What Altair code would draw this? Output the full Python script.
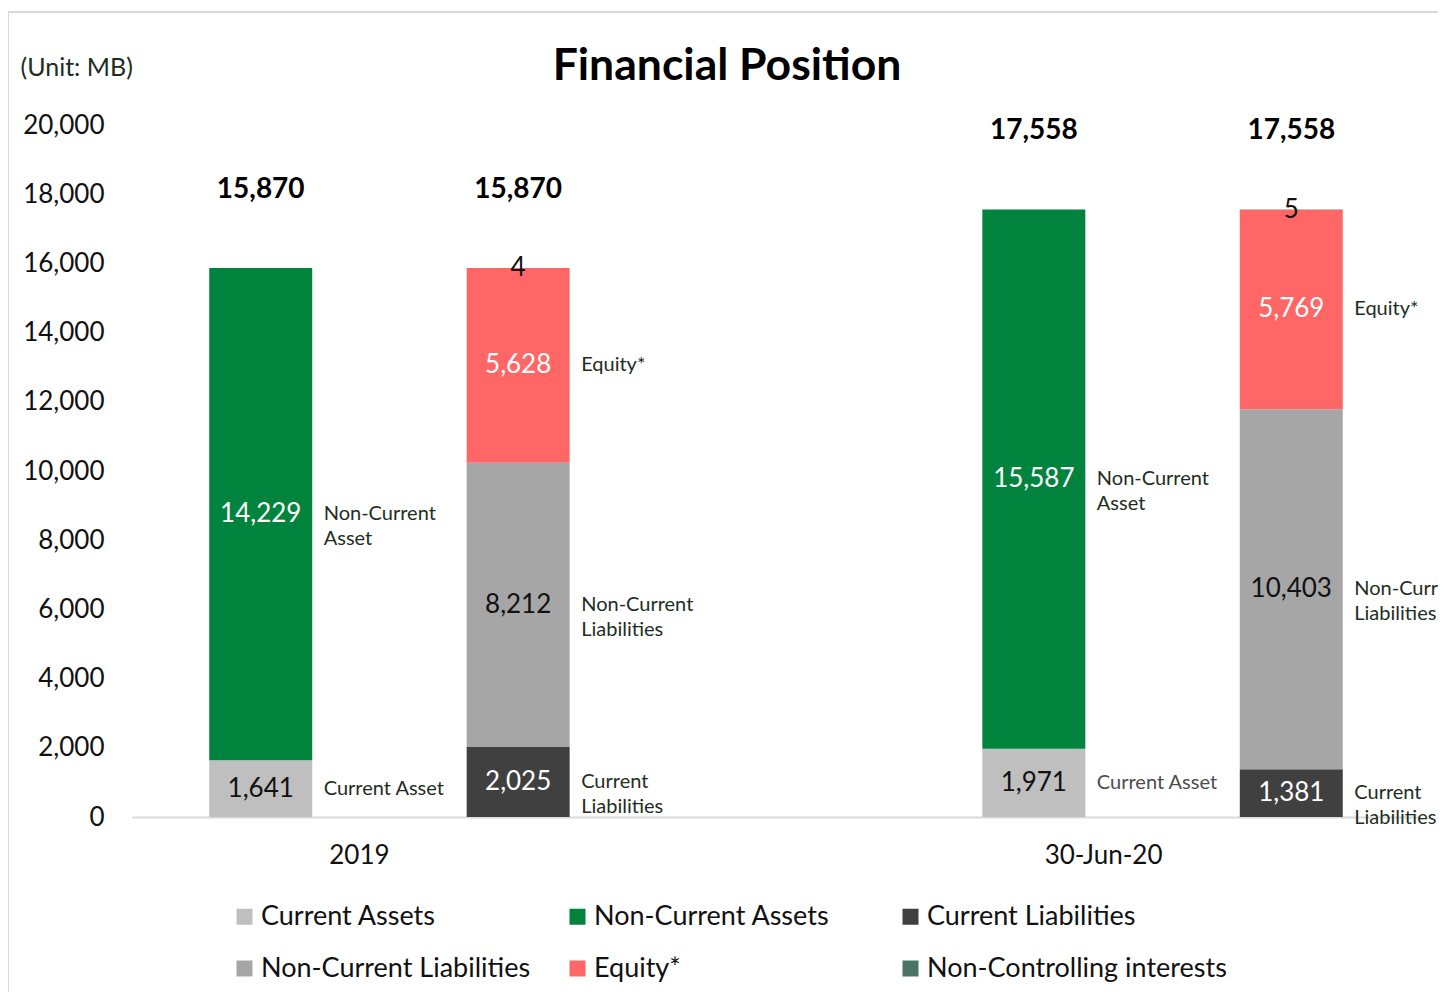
import altair as alt
import pandas as pd

# ---------------- data ----------------
periods = ["2019", "30-Jun-20"]
sides = ["Assets", "Liabilities & Equity"]

current_assets = [1641, 1971]
non_current_assets = [14229, 15587]
current_liabilities = [2025, 1381]
non_current_liabilities = [8212, 10403]
equity = [5628, 5769]
non_controlling = [4, 5]
total_assets = [15870, 17558]
total_liab_equity = [15870, 17558]

segments = ["Current Assets", "Non-Current Assets", "Current Liabilities",
            "Non-Current Liabilities", "Equity*", "Non-Controlling interests"]
seg_colors = ["#BFBFBF", "#00843D", "#404040", "#A6A6A6", "#FF6666", "#4A7366"]
side_notes = ["Current Asset", "Non-Current\nAsset", "Current\nLiabilities",
              "Non-Current\nLiabilities", "Equity*", ""]

series = [
    ("Assets", current_assets),
    ("Assets", non_current_assets),
    ("Liabilities & Equity", current_liabilities),
    ("Liabilities & Equity", non_current_liabilities),
    ("Liabilities & Equity", equity),
    ("Liabilities & Equity", non_controlling),
]

rows = []
for i, p in enumerate(periods):
    for k, (side, vals) in enumerate(series):
        rows.append(dict(period=p, side=side, segment=segments[k], value=vals[i],
                         order=k, note=side_notes[k]))
df = pd.DataFrame(rows)

tot_rows = []
for i, p in enumerate(periods):
    tot_rows.append(dict(period=p, side="Assets", total=total_assets[i]))
    tot_rows.append(dict(period=p, side="Liabilities & Equity", total=total_liab_equity[i]))
df_tot = pd.DataFrame(tot_rows)

FONT = "Lato"

x_enc = alt.X("period:N", sort=periods,
              scale=alt.Scale(paddingInner=0.334, paddingOuter=0),
              axis=alt.Axis(title=None, labelAngle=0, ticks=False, domain=True,
                            domainColor="#D9D9D9", domainWidth=2,
                            labelFontSize=26, labelFont=FONT, labelColor="#111111",
                            labelPadding=25,
                            labelOffset={"condition": {"test": "datum.value == '2019'",
                                                       "value": -30},
                                         "value": -59}))
xo_enc = alt.XOffset("side:N", sort=sides,
                     scale=alt.Scale(paddingInner=0.6, paddingOuter=0.3))
y_scale = alt.Scale(domain=[0, 20000], nice=False)
y_axis = alt.Axis(values=list(range(0, 20001, 2000)),
                  labelExpr="format(datum.value, ',')",
                  grid=False, domain=False, ticks=False,
                  labelFontSize=26, labelFont=FONT, labelColor="#111111",
                  labelPadding=28,
                  title="(Unit: MB)", titleAngle=0, titleAlign="left",
                  titleBaseline="middle", titleX=-112, titleY=-58,
                  titleFontSize=25, titleFont=FONT, titleFontWeight="normal",
                  titleColor="#1E2E1E")

base = alt.Chart(df)

bars = base.mark_bar().encode(
    x=x_enc,
    xOffset=xo_enc,
    y=alt.Y("value:Q", stack="zero", scale=y_scale, axis=y_axis),
    color=alt.Color("segment:N", sort=segments,
                    scale=alt.Scale(domain=segments, range=seg_colors),
                    legend=alt.Legend(title=None, orient="none", legendX=99, legendY=778,
                                      direction="horizontal",
                                      columns=3, symbolType="square", symbolSize=256,
                                      symbolStrokeWidth=0, labelFontSize=27,
                                      labelFont=FONT, labelColor="#111111",
                                      labelLimit=500, rowPadding=24,
                                      columnPadding=3, gridAlign="all",
                                      labelOffset=3)),
    order=alt.Order("order:Q", sort="ascending"),
)

stacked = base.transform_stack(
    stack="value", groupby=["period", "side"], as_=["y0", "y1"],
    sort=[alt.SortField("order", "ascending")]
).transform_calculate(mid="(datum.y0 + datum.y1) / 2")

values = stacked.transform_calculate(
    lc="indexof(['Non-Current Assets','Current Liabilities','Equity*'], datum.segment) >= 0 ? 'white' : '#111111'"
).mark_text(fontSize=26, font=FONT, baseline="middle", align="center").encode(
    x=x_enc, xOffset=xo_enc,
    y=alt.Y("mid:Q", scale=y_scale, axis=y_axis),
    text=alt.Text("value:Q", format=","),
    color=alt.Color("lc:N", scale=None),
)

notes = stacked.transform_filter("datum.note != ''").transform_calculate(
    nc="datum.period == '30-Jun-20' && datum.segment == 'Current Assets' ? '#4D4D4D' : '#1E2E1E'"
).mark_text(fontSize=20, font=FONT, baseline="middle", align="left", dx=63,
            lineBreak="\n", lineHeight=25).encode(
    x=x_enc, xOffset=xo_enc,
    y=alt.Y("mid:Q", scale=y_scale, axis=y_axis),
    text="note:N",
    color=alt.Color("nc:N", scale=None),
)

totals = alt.Chart(df_tot).mark_text(fontSize=28, font=FONT, fontWeight="bold",
                                     baseline="middle", align="center", dy=-78,
                                     color="#000000").encode(
    x=x_enc, xOffset=xo_enc,
    y=alt.Y("total:Q", scale=y_scale, axis=y_axis),
    text=alt.Text("total:Q", format=","),
)

# outer chart frame (top and left edges; the others fall outside the page)
frame_df = pd.DataFrame({"f": [0]})
frame_top = alt.Chart(frame_df).mark_rule(color="#D9D9D9", strokeWidth=2).encode(
    x=alt.value(-124), x2=alt.value(1330), y=alt.value(-113))
frame_left = alt.Chart(frame_df).mark_rule(color="#D9D9D9", strokeWidth=2).encode(
    x=alt.value(-124), y=alt.value(-113), y2=alt.value(900))

chart = alt.layer(frame_top, frame_left, bars, values, notes, totals).resolve_scale(
    color="independent"
).properties(
    width=1288, height=692,
    background="white",
    autosize=alt.AutoSizeParams(type="none"),
    padding={"left": 124, "top": 117, "right": 18, "bottom": 175},
    title=alt.Title("Financial Position", fontSize=44.5, font=FONT, fontWeight="bold",
                    anchor="middle", frame="group", dx=-49, offset=0, dy=78,
                    color="#000000"),
).configure_view(stroke="transparent", strokeWidth=0)

chart.save("out.html", embed_options={"renderer": "svg", "actions": False})
